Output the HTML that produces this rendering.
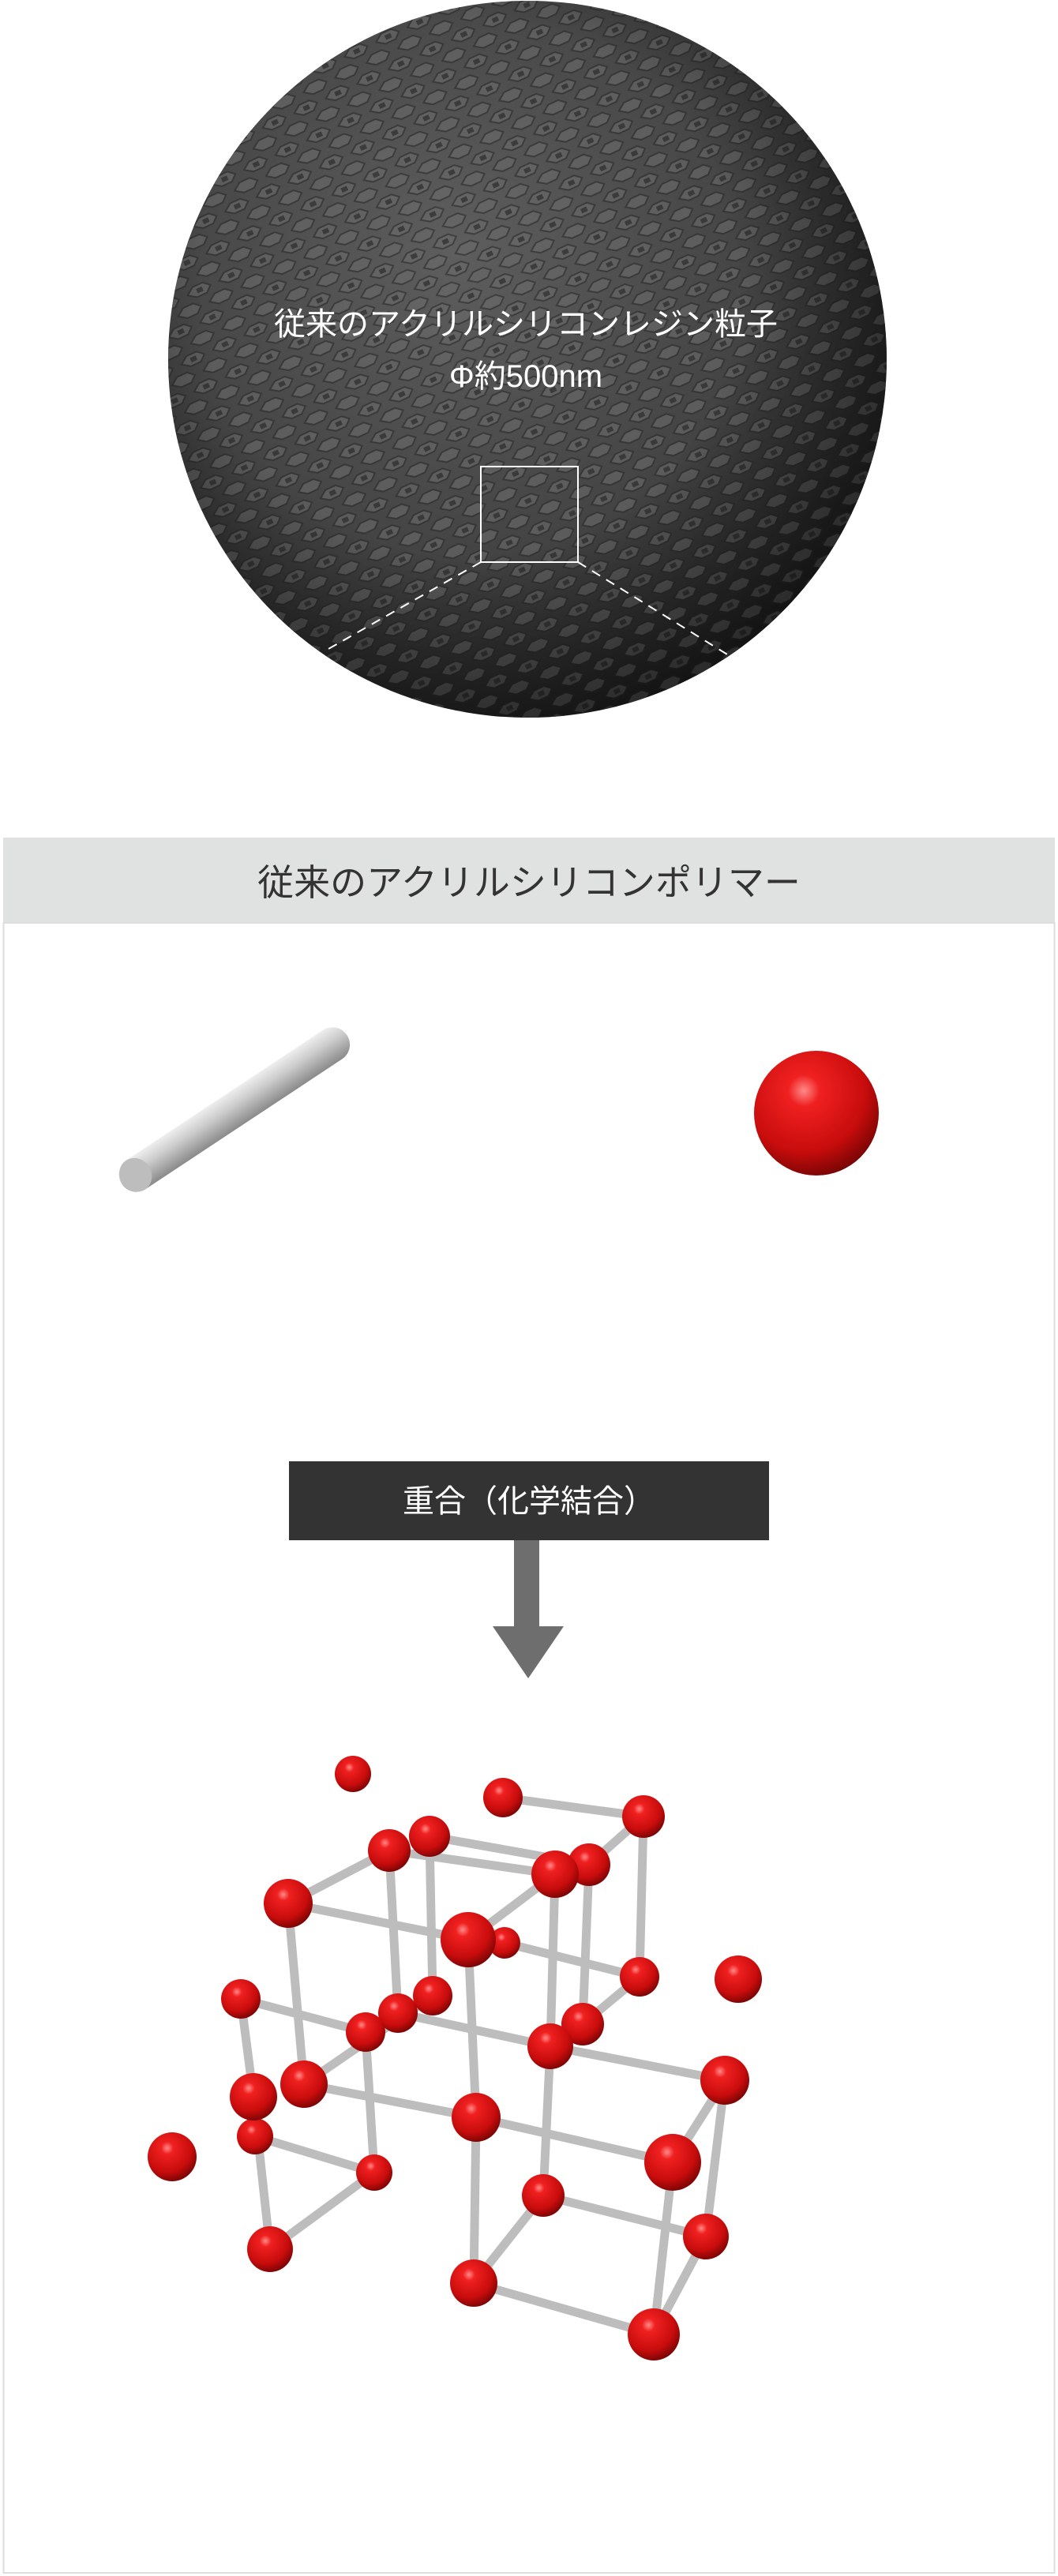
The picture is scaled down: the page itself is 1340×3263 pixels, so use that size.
<!DOCTYPE html>
<html><head><meta charset="utf-8"><style>
html,body{margin:0;padding:0;background:#fff;}
body{width:1340px;height:3263px;position:relative;overflow:hidden;font-family:"Liberation Sans","Noto Sans CJK JP",sans-serif;}
.abs{position:absolute;}
</style></head><body>
<svg class="abs" style="left:0;top:0" width="1340" height="3263" viewBox="0 0 1340 3263">
<defs>
<radialGradient id="sph" cx="0.4" cy="0.35" r="0.7">
<stop offset="0" stop-color="#5e5e5e"/><stop offset="0.6" stop-color="#444"/><stop offset="1" stop-color="#222"/>
</radialGradient>
<pattern id="hex" width="44" height="38" patternUnits="userSpaceOnUse" patternTransform="rotate(-25 668 455)">
<rect width="44" height="38" fill="none"/>
<polygon points="4,10 14,3 28,3 36,10 28,17 14,17" fill="#6a6a6a" stroke="#2a2a2a" stroke-width="2" opacity="0.6"/>
<rect x="17" y="7" width="8" height="6" fill="#222" opacity="0.6"/>
<polygon points="26,29 36,22 50,22 58,29 50,36 36,36" fill="#6a6a6a" stroke="#2a2a2a" stroke-width="2" opacity="0.6"/>
<polygon points="-18,29 -8,22 6,22 14,29 6,36 -8,36" fill="#6a6a6a" stroke="#2a2a2a" stroke-width="2" opacity="0.6"/>
</pattern>
<radialGradient id="shade" cx="0.42" cy="0.4" r="0.62">
<stop offset="0.6" stop-color="#000" stop-opacity="0"/><stop offset="1" stop-color="#000" stop-opacity="0.45"/>
</radialGradient>
<radialGradient id="red" cx="0.4" cy="0.32" r="0.7">
<stop offset="0" stop-color="#ff8a8a"/><stop offset="0.18" stop-color="#f02020"/><stop offset="0.7" stop-color="#c80c0c"/><stop offset="1" stop-color="#7a0505"/>
</radialGradient>
<linearGradient id="rod" x1="0" y1="0" x2="0" y2="1">
<stop offset="0" stop-color="#eee"/><stop offset="0.4" stop-color="#ccc"/><stop offset="1" stop-color="#8a8a8a"/>
</linearGradient>
<clipPath id="sc"><ellipse cx="668" cy="455" rx="455" ry="454"/></clipPath>
</defs>
<ellipse cx="668" cy="455" rx="455" ry="454" fill="url(#sph)"/>
<g clip-path="url(#sc)"><rect x="200" y="0" width="940" height="920" fill="url(#hex)"/></g>
<ellipse cx="668" cy="455" rx="455" ry="454" fill="url(#shade)"/>
<rect x="609" y="591" width="123" height="121" fill="none" stroke="#fff" stroke-width="2"/>
<line x1="609" y1="712" x2="416" y2="822" stroke="#fff" stroke-width="2" stroke-dasharray="12,9"/>
<line x1="732" y1="712" x2="926" y2="832" stroke="#fff" stroke-width="2" stroke-dasharray="12,9"/>
<text x="666" y="424" fill="#fff" font-size="40" text-anchor="middle">従来のアクリルシリコンレジン粒子</text>
<text x="666" y="490" fill="#fff" font-size="40" text-anchor="middle">Φ約500nm</text>

<rect x="4" y="1061" width="1332" height="108" fill="#e0e1e1"/>
<rect x="4.5" y="1169" width="1331" height="2090" fill="#fff" stroke="#ddd" stroke-width="2"/>
<text x="670" y="1134" fill="#333" font-size="46" text-anchor="middle">従来のアクリルシリコンポリマー</text>

<g transform="rotate(-33.5 296 1406)">
<rect x="126" y="1384" width="342" height="44" rx="22" fill="url(#rod)"/>
<ellipse cx="147" cy="1406" rx="20" ry="22" fill="#bdbdbd"/>
</g>
<circle cx="1034" cy="1410" r="79" fill="url(#red)"/>

<rect x="366" y="1851" width="608" height="100" fill="#333"/>
<text x="670" y="1915" fill="#fff" font-size="40" text-anchor="middle">重合（化学結合）</text>
<rect x="651" y="1951" width="32" height="110" fill="#6e6e6e"/>
<polygon points="624,2060 714,2060 669,2126" fill="#6e6e6e"/>

<g stroke="#bdbdbd" stroke-width="11" stroke-linecap="round">
<line x1="637" y1="2277" x2="815" y2="2301"/>
<line x1="815" y1="2301" x2="746" y2="2362"/>
<line x1="815" y1="2301" x2="810" y2="2504"/>
<line x1="544" y1="2326" x2="746" y2="2362"/>
<line x1="493" y1="2344" x2="703" y2="2374"/>
<line x1="493" y1="2344" x2="365" y2="2411"/>
<line x1="365" y1="2411" x2="593" y2="2457"/>
<line x1="703" y1="2374" x2="593" y2="2457"/>
<line x1="493" y1="2344" x2="504" y2="2550"/>
<line x1="544" y1="2326" x2="548" y2="2528"/>
<line x1="703" y1="2374" x2="697" y2="2592"/>
<line x1="746" y1="2362" x2="738" y2="2564"/>
<line x1="810" y1="2504" x2="738" y2="2564"/>
<line x1="639" y1="2461" x2="810" y2="2504"/>
<line x1="365" y1="2411" x2="385" y2="2640"/>
<line x1="593" y1="2457" x2="603" y2="2682"/>
<line x1="305" y1="2532" x2="463" y2="2574"/>
<line x1="305" y1="2532" x2="321" y2="2656"/>
<line x1="548" y1="2528" x2="385" y2="2640"/>
<line x1="504" y1="2550" x2="697" y2="2592"/>
<line x1="463" y1="2574" x2="474" y2="2752"/>
<line x1="697" y1="2592" x2="918" y2="2635"/>
<line x1="385" y1="2640" x2="603" y2="2682"/>
<line x1="603" y1="2682" x2="852" y2="2739"/>
<line x1="918" y1="2635" x2="852" y2="2739"/>
<line x1="918" y1="2635" x2="894" y2="2833"/>
<line x1="852" y1="2739" x2="828" y2="2957"/>
<line x1="697" y1="2592" x2="688" y2="2781"/>
<line x1="688" y1="2781" x2="894" y2="2833"/>
<line x1="688" y1="2781" x2="600" y2="2892"/>
<line x1="600" y1="2892" x2="828" y2="2957"/>
<line x1="894" y1="2833" x2="828" y2="2957"/>
<line x1="603" y1="2682" x2="600" y2="2892"/>
<line x1="321" y1="2656" x2="342" y2="2849"/>
<line x1="323" y1="2706" x2="474" y2="2752"/>
<line x1="474" y1="2752" x2="342" y2="2849"/>
</g>
<g fill="url(#red)">
<circle cx="447" cy="2247" r="23"/>
<circle cx="637" cy="2277" r="25"/>
<circle cx="815" cy="2301" r="27"/>
<circle cx="544" cy="2326" r="26"/>
<circle cx="639" cy="2461" r="20"/>
<circle cx="746" cy="2362" r="27"/>
<circle cx="493" cy="2344" r="27"/>
<circle cx="703" cy="2374" r="30"/>
<circle cx="365" cy="2411" r="31"/>
<circle cx="593" cy="2457" r="35"/>
<circle cx="810" cy="2504" r="25"/>
<circle cx="935" cy="2507" r="30"/>
<circle cx="305" cy="2532" r="25"/>
<circle cx="548" cy="2528" r="25"/>
<circle cx="504" cy="2550" r="25"/>
<circle cx="463" cy="2574" r="25"/>
<circle cx="738" cy="2564" r="27"/>
<circle cx="697" cy="2592" r="29"/>
<circle cx="918" cy="2635" r="31"/>
<circle cx="323" cy="2706" r="23"/>
<circle cx="321" cy="2656" r="30"/>
<circle cx="385" cy="2640" r="30"/>
<circle cx="603" cy="2682" r="31"/>
<circle cx="218" cy="2732" r="31"/>
<circle cx="474" cy="2752" r="23"/>
<circle cx="852" cy="2739" r="36"/>
<circle cx="688" cy="2781" r="27"/>
<circle cx="894" cy="2833" r="29"/>
<circle cx="342" cy="2849" r="29"/>
<circle cx="600" cy="2892" r="30"/>
<circle cx="828" cy="2957" r="33"/>
</g>
</svg>
</body></html>
